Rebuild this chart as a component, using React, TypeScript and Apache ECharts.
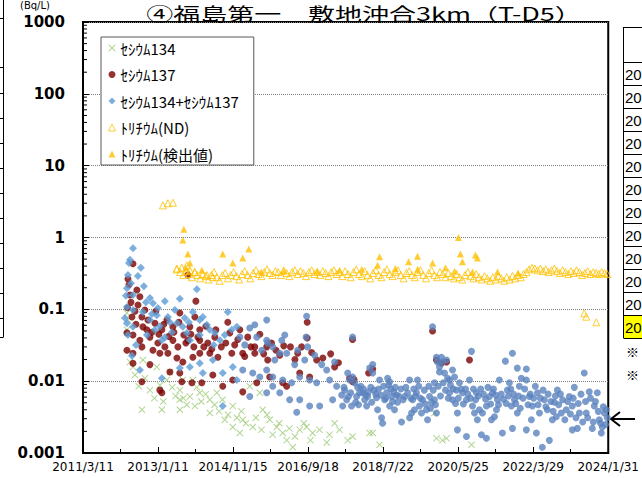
import React, { useEffect, useRef } from 'react';
import * as echarts from 'echarts';

// ---------- texts ----------
const TITLE = '④福島第一　敷地沖合3km（T-D5）';
const UNIT_LABEL = '(Bq/L)';
const seriesNames = ['ｾｼｳﾑ134', 'ｾｼｳﾑ137', 'ｾｼｳﾑ134+ｾｼｳﾑ137', 'ﾄﾘﾁｳﾑ(ND)', 'ﾄﾘﾁｳﾑ(検出値)'];
const xTickLabels = ['2011/3/11', '2013/1/11', '2014/11/15', '2016/9/18', '2018/7/22', '2020/5/25', '2022/3/29', '2024/1/31'];
const yTickLabels = ['0.001', '0.01', '0.1', '1', '10', '100', '1000'];
const tableRowLabels = ['20', '20', '20', '20', '20', '20', '20', '20', '20', '20', '20', '20'];
const noteMarks = ['※', '※'];

// x values are days counted from 2011/3/11; the axis ends on 2024/1/31
const X_MAX_DAY = 4709;
const BLUE_DIAMOND_UNTIL = 1400;

// ---------- data: [day since 2011/3/11, Bq/L] ----------
const cs134 = [
  [394, 0.089], [403, 0.071], [394, 0.052], [421, 0.0185], [448, 0.0158], [466, 0.0122], [500, 0.0085], [528, 0.004],
  [537, 0.0197], [555, 0.011], [600, 0.0075], [640, 0.0058], [662, 0.0158], [690, 0.0088], [707, 0.004], [720, 0.0052],
  [752, 0.0104], [779, 0.0134], [800, 0.0082], [830, 0.0062], [868, 0.004], [868, 0.0055], [868, 0.0075], [895, 0.0104],
  [900, 0.0058], [930, 0.0047], [958, 0.0061], [985, 0.0104], [1003, 0.0045], [1020, 0.0082], [1047, 0.0069], [1060, 0.0052],
  [1100, 0.0066], [1137, 0.0055], [1137, 0.0036], [1180, 0.0047], [1200, 0.0069], [1220, 0.0038], [1250, 0.0055], [1271, 0.0029],
  [1300, 0.0034], [1343, 0.0023], [1343, 0.0045], [1380, 0.0031], [1406, 0.0019], [1420, 0.0038], [1432, 0.0029], [1460, 0.0026],
  [1495, 0.0085], [1522, 0.0023], [1550, 0.0031], [1585, 0.0069], [1600, 0.0021], [1611, 0.004], [1650, 0.0034], [1674, 0.0029],
  [1700, 0.0018], [1737, 0.0023], [1760, 0.0026], [1791, 0.0019], [1826, 0.0015], [1850, 0.0022], [1880, 0.0012], [1900, 0.0017],
  [1943, 0.0021], [1980, 0.0026], [2005, 0.0023], [2040, 0.0015], [2059, 0.0019], [2120, 0.0021], [2185, 0.0014], [2210, 0.0018],
  [2256, 0.0026], [2300, 0.0021], [2373, 0.0015], [2417, 0.0017], [2570, 0.0019], [2597, 0.0019], [2659, 0.0013], [3151, 0.0036],
  [3169, 0.0016], [3223, 0.0015], [3259, 0.0016], [3483, 0.0013],
];

const cs137 = [
  [399, 0.105], [403, 0.265], [412, 0.22], [421, 0.158], [430, 0.125], [439, 0.078], [448, 0.43], [448, 0.044], [448, 0.0245],
  [448, 0.0178], [394, 0.047], [394, 0.027], [466, 0.094], [475, 0.062], [483, 0.186], [493, 0.115], [510, 0.15], [510, 0.037],
  [528, 0.078], [528, 0.03], [528, 0.0098], [537, 0.057], [555, 0.098], [573, 0.052], [582, 0.071], [600, 0.041], [600, 0.017],
  [618, 0.048], [627, 0.027], [645, 0.064], [653, 0.094], [671, 0.034], [680, 0.045], [689, 0.0245], [689, 0.0075], [707, 0.052],
  [707, 0.0069], [725, 0.062], [734, 0.03], [752, 0.071], [761, 0.0245], [770, 0.042], [779, 0.0134], [806, 0.057], [806, 0.037],
  [815, 0.048], [842, 0.021], [851, 0.03], [860, 0.066], [868, 0.089], [868, 0.013], [886, 0.0098], [895, 0.0185], [904, 0.044],
  [922, 0.034], [940, 0.3], [940, 0.037], [958, 0.057], [967, 0.045], [976, 0.0095], [985, 0.0215], [994, 0.03], [1003, 0.078],
  [1012, 0.13], [1030, 0.041], [1047, 0.052], [1047, 0.037], [1047, 0.0245], [1065, 0.0095], [1083, 0.03], [1101, 0.058],
  [1119, 0.034], [1137, 0.0245], [1155, 0.028], [1164, 0.0122], [1182, 0.041], [1191, 0.052], [1209, 0.0215], [1240, 0.03],
  [1253, 0.0085], [1280, 0.034], [1298, 0.066], [1316, 0.047], [1334, 0.0245], [1343, 0.0104], [1360, 0.032], [1388, 0.038],
  [1406, 0.052], [1432, 0.0245], [1432, 0.0071], [1450, 0.022], [1477, 0.041], [1505, 0.03], [1540, 0.03], [1540, 0.0245],
  [1558, 0.0095], [1585, 0.045], [1620, 0.024], [1647, 0.03], [1656, 0.0197], [1674, 0.0114], [1690, 0.034], [1730, 0.027],
  [1764, 0.023], [1791, 0.0095], [1800, 0.031], [1826, 0.0085], [1860, 0.03], [1900, 0.02], [1925, 0.0245], [1943, 0.013],
  [1960, 0.03], [2010, 0.066], [2010, 0.04], [2032, 0.0114], [2050, 0.025], [2095, 0.0197], [2150, 0.021], [2220, 0.024],
  [2256, 0.0158], [2290, 0.018], [2390, 0.011], [2417, 0.038], [2417, 0.0098], [2430, 0.0105], [2561, 0.013], [2597, 0.0148],
  [3134, 0.05], [3169, 0.0197], [3214, 0.0178], [3259, 0.0185], [3465, 0.0197],
];

const csTotal = [
  [448, 0.71], [421, 0.49], [412, 0.44], [519, 0.38], [403, 0.3], [492, 0.29], [394, 0.197], [546, 0.21], [448, 0.158], [600, 0.144],
  [627, 0.122], [1021, 0.19], [868, 0.14], [734, 0.13], [394, 0.108], [448, 0.098], [537, 0.092], [618, 0.086], [662, 0.083],
  [1298, 0.092], [761, 0.078], [842, 0.064], [913, 0.076], [1047, 0.071], [1074, 0.078], [1647, 0.071], [2005, 0.08], [394, 0.064],
  [448, 0.057], [475, 0.032], [403, 0.044], [573, 0.044], [645, 0.052], [689, 0.058], [734, 0.041], [797, 0.048], [895, 0.057],
  [931, 0.047], [958, 0.037], [1047, 0.044], [1137, 0.052], [1182, 0.047], [1227, 0.037], [1334, 0.052], [1379, 0.057], [1406, 0.041],
  [1495, 0.055], [1558, 0.041], [1647, 0.037], [1656, 0.034], [1701, 0.03], [1782, 0.037], [1764, 0.0245], [1826, 0.0245],
  [1925, 0.027], [2000, 0.041], [2014, 0.03], [2256, 0.0185], [2185, 0.0143], [510, 0.0143], [707, 0.011], [868, 0.0152],
  [958, 0.0158], [1047, 0.0178], [1074, 0.013], [1164, 0.0197], [1253, 0.013], [1343, 0.0158], [1379, 0.0104], [1432, 0.0143],
  [1522, 0.013], [1585, 0.0114], [1647, 0.0143], [1701, 0.0114], [1791, 0.0104], [1871, 0.0095], [1943, 0.0114], [2032, 0.0104],
  [2095, 0.0095], [2211, 0.0104], [2274, 0.0085], [1853, 0.0055], [1943, 0.0055], [2032, 0.0045], [2122, 0.0045], [2238, 0.0055],
  [1253, 0.0045], [1495, 0.0061], [1647, 0.0069], [1701, 0.0085], [1764, 0.0069], [1916, 0.0037],
  [376, 0.076], [385, 0.155], [430, 0.23], [564, 0.125], [600, 0.071], [671, 0.104], [707, 0.037], [779, 0.066], [824, 0.098],
  [949, 0.066], [985, 0.092], [1110, 0.061], [1173, 0.032], [1271, 0.044], [1450, 0.032], [1540, 0.061], [1603, 0.027],
  [1719, 0.0197], [1809, 0.044], [1898, 0.017], [1988, 0.0197], [2077, 0.023], [2140, 0.017], [439, 0.0225],
  [2417, 0.041], [2319, 0.0064], [2346, 0.0075], [2373, 0.013], [2390, 0.0104], [2417, 0.0114], [2435, 0.0095], [2453, 0.0061],
  [2364, 0.0055], [2408, 0.0045], [2462, 0.0082], [2328, 0.0045], [2480, 0.0069], [2507, 0.0069], [2525, 0.0055], [2543, 0.0045],
  [2552, 0.0061], [2570, 0.0152], [2597, 0.017], [2597, 0.013], [2588, 0.0051], [2632, 0.0059], [2641, 0.004], [2659, 0.0104],
  [2677, 0.0031], [2686, 0.0026], [2731, 0.011], [2749, 0.0098], [2722, 0.0069], [2767, 0.0061], [2776, 0.0052], [2811, 0.0064],
  [2820, 0.0051], [2749, 0.0045], [2793, 0.004], [2704, 0.0055], [2856, 0.0027], [2883, 0.0061], [2910, 0.0069], [2928, 0.0104],
  [2946, 0.0036], [2955, 0.0055], [2990, 0.0069], [2999, 0.0104], [2972, 0.004], [3017, 0.0045], [2928, 0.0031], [3035, 0.0036],
  [3044, 0.0055], [3080, 0.004], [3089, 0.0029], [3107, 0.0061], [3134, 0.057], [3125, 0.0051], [3151, 0.0095], [3169, 0.0215],
  [3178, 0.0185], [3196, 0.0158], [3196, 0.0134], [3169, 0.0036], [3151, 0.0055], [3214, 0.0215], [3223, 0.0185], [3259, 0.0197],
  [3241, 0.013], [3268, 0.011], [3286, 0.0104], [3313, 0.0143], [3331, 0.0114], [3286, 0.0069], [3313, 0.0055], [3357, 0.0036],
  [3357, 0.0021], [3348, 0.0075], [3375, 0.0095], [3402, 0.0069], [3438, 0.0055], [3438, 0.0017], [3465, 0.0104], [3483, 0.026],
  [3492, 0.0045], [3510, 0.0036], [3527, 0.0069], [3536, 0.0029], [3554, 0.004], [3572, 0.0018], [3581, 0.0036], [3617, 0.0016],
  [3617, 0.0045], [3644, 0.0061], [3662, 0.0029], [3671, 0.0069], [3707, 0.004], [3716, 0.0055], [3733, 0.0104], [3689, 0.0032],
  [3760, 0.0019], [3787, 0.019], [3805, 0.0075], [3823, 0.0095], [3841, 0.0045], [3850, 0.0245], [3850, 0.0022], [3868, 0.0055],
  [3894, 0.0152], [3912, 0.0085], [3894, 0.0036], [3930, 0.011], [3975, 0.0148], [3975, 0.0104], [3975, 0.0021], [4020, 0.0029],
  [4002, 0.0061], [4029, 0.0045], [4065, 0.0019], [4074, 0.0069], [4092, 0.0036], [4118, 0.0012], [4136, 0.0055], [4181, 0.0015],
  [4163, 0.004], [4208, 0.0029], [4244, 0.0032], [4253, 0.0075], [4226, 0.0051], [4288, 0.0036], [4333, 0.004], [4360, 0.0061],
  [4387, 0.0021], [4405, 0.0082], [4432, 0.0022], [4450, 0.0036], [4387, 0.0045], [4494, 0.013], [4512, 0.0036], [4539, 0.0071],
  [4566, 0.0022], [4584, 0.0045], [4611, 0.0069], [4647, 0.0019], [4656, 0.0023], [4674, 0.0036], [4629, 0.0029], [4691, 0.004],
  [2340, 0.0082], [2380, 0.0061], [2400, 0.0069], [2445, 0.0051], [2470, 0.0047], [2490, 0.0085], [2515, 0.0078], [2535, 0.0064],
  [2560, 0.0071], [2580, 0.0082], [2610, 0.0075], [2625, 0.0066], [2650, 0.0078], [2670, 0.0064], [2695, 0.0085], [2715, 0.0058],
  [2740, 0.0088], [2760, 0.0078], [2785, 0.0071], [2800, 0.0082], [2830, 0.0062], [2850, 0.0078], [2870, 0.0055], [2895, 0.0082],
  [2940, 0.0058], [2965, 0.0078], [2980, 0.0062], [3010, 0.0085], [3025, 0.0058], [3060, 0.0075], [3070, 0.0048], [3100, 0.0085],
  [3115, 0.0042], [3140, 0.0075], [3160, 0.0047], [3185, 0.0085], [3205, 0.0062], [3230, 0.0095], [3250, 0.0075], [3275, 0.0058],
  [3295, 0.0088], [3320, 0.0078], [3340, 0.0049], [3365, 0.0058], [3390, 0.0078], [3410, 0.0048], [3430, 0.0078], [3450, 0.0066],
  [3475, 0.0058], [3500, 0.0078], [3520, 0.0055], [3545, 0.0062], [3565, 0.0078], [3590, 0.0066], [3610, 0.0056], [3630, 0.0082],
  [3655, 0.0048], [3680, 0.0078], [3700, 0.0064], [3725, 0.0047], [3750, 0.0066], [3770, 0.0056], [3795, 0.0049], [3815, 0.0062],
  [3835, 0.0078], [3860, 0.0066], [3880, 0.0049], [3905, 0.0062], [3920, 0.0042], [3945, 0.0058], [3960, 0.0078], [3990, 0.0047],
  [4010, 0.0066], [4040, 0.0058], [4055, 0.0085], [4080, 0.0047], [4100, 0.0058], [4125, 0.0075], [4150, 0.0044], [4170, 0.0066],
  [4195, 0.0052], [4215, 0.0038], [4235, 0.0062], [4265, 0.0047], [4280, 0.0066], [4300, 0.0055], [4320, 0.0029], [4345, 0.0052],
  [4370, 0.0035], [4395, 0.0058], [4420, 0.0031], [4440, 0.0049], [4465, 0.0066], [4480, 0.0027], [4505, 0.0052], [4525, 0.0031],
  [4550, 0.0058], [4575, 0.0027], [4595, 0.0052], [4620, 0.0038], [4640, 0.0026], [4665, 0.0044], [4685, 0.0025], [4700, 0.0031],
];

const tritiumND = [
  [716, 2.8], [761, 3.0], [806, 3.05], [842, 0.37], [886, 0.38], [931, 0.41], [958, 0.35], [1003, 0.33], [1110, 0.3], [1164, 0.28],
  [840, 0.36], [870, 0.33], [900, 0.3], [925, 0.34], [950, 0.31], [975, 0.28], [1000, 0.33], [1025, 0.3], [1050, 0.27], [1075, 0.31],
  [1100, 0.29], [1125, 0.26], [1150, 0.3], [1175, 0.33], [1200, 0.28], [1225, 0.25], [1250, 0.3], [1275, 0.32], [1300, 0.27],
  [1325, 0.3], [1350, 0.33], [1375, 0.29], [1400, 0.26], [1425, 0.31], [1450, 0.34], [1475, 0.3], [1500, 0.27], [1525, 0.32],
  [1550, 0.35], [1575, 0.31], [1600, 0.29], [1625, 0.33], [1650, 0.36], [1675, 0.32], [1700, 0.3], [1725, 0.34], [1750, 0.33],
  [1775, 0.3], [1800, 0.35], [1825, 0.32], [1850, 0.29], [1875, 0.33], [1900, 0.35], [1925, 0.31], [1950, 0.34], [1975, 0.32],
  [2000, 0.29], [2025, 0.33], [2050, 0.35], [2075, 0.31], [2100, 0.33], [2125, 0.3], [2150, 0.34], [2175, 0.32], [2200, 0.29],
  [2225, 0.33], [2250, 0.35], [2275, 0.31], [2300, 0.33], [2325, 0.29], [2350, 0.34], [2375, 0.31], [2400, 0.28], [2425, 0.33],
  [2450, 0.36], [2475, 0.31], [2500, 0.29], [2525, 0.34], [2550, 0.3], [2575, 0.27], [2600, 0.32], [2625, 0.35], [2650, 0.3],
  [2675, 0.28], [2700, 0.33], [2725, 0.36], [2750, 0.31], [2775, 0.29], [2800, 0.33], [2825, 0.35], [2850, 0.3], [2875, 0.27],
  [2900, 0.32], [2925, 0.34], [2950, 0.3], [2975, 0.28], [3000, 0.33], [3025, 0.35], [3050, 0.3], [3075, 0.27], [3100, 0.32],
  [3125, 0.35], [3150, 0.3], [3175, 0.28], [3200, 0.33], [3225, 0.31], [3250, 0.28], [3275, 0.32], [3300, 0.29], [3325, 0.27],
  [3350, 0.31], [3375, 0.28], [3400, 0.26], [3425, 0.3], [3450, 0.33], [3475, 0.29], [3500, 0.27], [3525, 0.31], [3550, 0.28],
  [3575, 0.26], [3600, 0.29], [3625, 0.27], [3650, 0.25], [3675, 0.28], [3700, 0.26], [3725, 0.29], [3750, 0.27], [3775, 0.25],
  [3800, 0.28], [3825, 0.26], [3850, 0.29], [3875, 0.27], [3900, 0.3], [3925, 0.28], [3950, 0.31], [3975, 0.33], [4000, 0.36],
  [4025, 0.38], [4050, 0.37], [4075, 0.35], [4100, 0.37], [4125, 0.34], [4150, 0.36], [4175, 0.33], [4200, 0.35], [4225, 0.37],
  [4250, 0.34], [4275, 0.32], [4300, 0.35], [4325, 0.33], [4350, 0.31], [4375, 0.34], [4400, 0.32], [4425, 0.35], [4450, 0.33],
  [4475, 0.3], [4500, 0.32], [4525, 0.34], [4550, 0.31], [4575, 0.33], [4600, 0.32], [4625, 0.31], [4650, 0.33], [4675, 0.32],
  [4700, 0.31], [4494, 0.088], [4512, 0.079], [4602, 0.066],
];

const tritiumDetected = [
  [895, 0.92], [904, 1.3], [922, 0.38], [940, 0.59], [958, 0.44], [1065, 0.35], [1253, 0.59], [1343, 0.44], [1432, 0.52],
  [1486, 0.69], [1600, 0.33], [1800, 0.34], [2100, 0.34], [2300, 0.35], [2500, 0.36], [2641, 0.41], [2659, 0.54], [2800, 0.37],
  [2919, 0.46], [2999, 0.55], [3000, 0.36], [3134, 0.44], [3250, 0.38], [3331, 0.34], [3366, 1.0], [3384, 0.59], [3402, 0.46],
  [3492, 0.33], [3518, 0.57], [3536, 0.52], [3716, 0.33], [3900, 0.32],
];

// ---------- styles ----------
const GREEN = '#9CCB76';
const RED = '#7A0000';
const BLUE_EARLY = '#5B9BD5';
const BLUE_LATE = '#5A82BE';
const GOLD = '#FFC000';
const CROSS = 'path://M0,1L1,0L5,4L9,0L10,1L6,5L10,9L9,10L5,6L1,10L0,9L4,5Z';

export default function App() {
  const ref = useRef<HTMLDivElement>(null);

  useEffect(() => {
    const el = ref.current as HTMLDivElement;
    const chart = echarts.init(el, null, { renderer: 'svg' });
    const xInterval = X_MAX_DAY / 7;

    const option: any = {
      animation: false,
      backgroundColor: '#fff',
      grid: { left: 83, top: 22, right: 33, bottom: 25, show: true, borderColor: '#000', borderWidth: 2, backgroundColor: 'transparent' },
      xAxis: {
        type: 'value', min: 0, max: X_MAX_DAY, interval: xInterval,
        axisLine: { show: true, onZero: false, lineStyle: { color: '#000', width: 2 } },
        axisTick: { show: true, inside: true, length: 6, lineStyle: { color: '#000', width: 1 } },
        minorTick: { show: true, splitNumber: 2, length: 4, lineStyle: { color: '#000', width: 1 } },
        splitLine: { show: false },
        axisLabel: {
          show: true, margin: 8, color: '#000', fontFamily: 'DejaVu Sans', fontSize: 12,
          showMinLabel: true, showMaxLabel: true,
          formatter: (v: number) => xTickLabels[Math.round(v / xInterval)] ?? '',
        },
      },
      yAxis: {
        type: 'log', logBase: 10, min: 0.001, max: 1000,
        axisLine: { show: true, lineStyle: { color: '#000', width: 2 } },
        axisTick: { show: true, inside: true, length: 6, lineStyle: { color: '#000', width: 1 } },
        splitLine: { show: true, lineStyle: { color: '#808080', type: 'dotted', width: 1 } },
        axisLabel: {
          show: true, margin: 18, color: '#000', fontFamily: 'DejaVu Sans', fontWeight: 'bold', fontSize: 15,
          formatter: (v: number) => yTickLabels[Math.round(Math.log10(v)) + 3] ?? '',
        },
      },
      legend: {
        show: true, orient: 'vertical', left: 101, top: 37,
        padding: [3, 15, 3, 7], itemGap: 10.5, itemWidth: 7, itemHeight: 7,
        backgroundColor: '#fff', borderColor: '#595959', borderWidth: 1,
        selectedMode: false,
        textStyle: { fontFamily: 'Noto Sans CJK JP', fontSize: 15, color: '#000', lineHeight: 16 },
        data: [
          { name: seriesNames[0], icon: CROSS, itemStyle: { color: GREEN } },
          { name: seriesNames[1], icon: 'circle', itemStyle: { color: RED } },
          { name: seriesNames[2], icon: 'diamond', itemStyle: { color: BLUE_EARLY } },
          { name: seriesNames[3], icon: 'triangle', itemStyle: { color: 'rgba(0,0,0,0)', borderColor: GOLD, borderWidth: 1 } },
          { name: seriesNames[4], icon: 'triangle', itemStyle: { color: GOLD } },
        ],
      },
      series: [
        { type: 'scatter', name: seriesNames[0], data: cs134, symbol: CROSS, symbolSize: 7, silent: true, itemStyle: { color: GREEN } },
        { type: 'scatter', name: seriesNames[1], data: cs137, symbol: 'circle', symbolSize: 7, silent: true, itemStyle: { color: RED } },
        {
          type: 'scatter', name: seriesNames[2], data: csTotal, silent: true,
          symbol: (v: number[]) => (v[0] < BLUE_DIAMOND_UNTIL ? 'diamond' : 'circle'),
          symbolSize: (v: number[]) => (v[0] < BLUE_DIAMOND_UNTIL ? 8 : 7),
          itemStyle: { color: (p: any) => (p.value[0] < BLUE_DIAMOND_UNTIL ? BLUE_EARLY : BLUE_LATE) },
        },
        {
          type: 'scatter', name: seriesNames[3], data: tritiumND, symbol: 'triangle', symbolSize: 7, silent: true,
          itemStyle: { color: 'rgba(0,0,0,0)', borderColor: GOLD, borderWidth: 1 },
        },
        { type: 'scatter', name: seriesNames[4], data: tritiumDetected, symbol: 'triangle', symbolSize: 7, silent: true, itemStyle: { color: GOLD } },
      ],
    };
    chart.setOption(option);

    // log minor ticks on the y axis, placed through the axis scale
    const x0 = chart.convertToPixel({ xAxisIndex: 0 }, 0) as number;
    const minorTicks: any[] = [];
    for (let k = -3; k < 3; k++) {
      for (let m = 2; m <= 9; m++) {
        const py = chart.convertToPixel({ yAxisIndex: 0 }, m * Math.pow(10, k)) as number;
        minorTicks.push({ type: 'line', silent: true, shape: { x1: x0, y1: py, x2: x0 + 4, y2: py }, style: { stroke: '#000', lineWidth: 1 } });
      }
    }

    const leftTableRows = [18, 67, 93, 118, 143, 168, 193, 218, 243, 268, 293, 318, 337];
    const leftTable: any[] = [
      { type: 'line', silent: true, shape: { x1: 3.5, y1: 0, x2: 3.5, y2: 337 }, style: { stroke: '#000', lineWidth: 1 } },
      ...leftTableRows.map((y) => ({ type: 'line', silent: true, shape: { x1: 0, y1: y + 0.5, x2: 3.5, y2: y + 0.5 }, style: { stroke: '#000', lineWidth: 1 } })),
    ];

    const rowTop = 62;
    const rowH = 23;
    const rightTable: any[] = [
      { type: 'rect', silent: true, shape: { x: 623.5, y: rowTop + rowH * 11, width: 20, height: rowH }, style: { fill: '#FFFF00', stroke: 'none' } },
      { type: 'line', silent: true, shape: { x1: 623.5, y1: 27, x2: 623.5, y2: rowTop + rowH * 12 }, style: { stroke: '#000', lineWidth: 1 } },
      { type: 'line', silent: true, shape: { x1: 623.5, y1: 27.5, x2: 642, y2: 27.5 }, style: { stroke: '#000', lineWidth: 1 } },
    ];
    for (let i = 0; i <= 12; i++) {
      rightTable.push({ type: 'line', silent: true, shape: { x1: 623.5, y1: rowTop + rowH * i + 0.5, x2: 642, y2: rowTop + rowH * i + 0.5 }, style: { stroke: '#000', lineWidth: 1 } });
    }
    tableRowLabels.forEach((t, i) => {
      rightTable.push({ type: 'text', silent: true, x: 625, y: rowTop + rowH * i + rowH / 2 + 1, style: { text: t, fill: '#000', fontSize: 15, fontFamily: 'Liberation Sans', verticalAlign: 'middle', align: 'left' } });
    });
    noteMarks.forEach((t, i) => {
      rightTable.push({ type: 'text', silent: true, x: 626, y: 351 + i * 23, style: { text: t, fill: '#000', fontSize: 13, fontFamily: 'Noto Sans CJK JP', verticalAlign: 'middle', align: 'left' } });
    });

    const arrow: any[] = [
      { type: 'line', silent: true, shape: { x1: 611, y1: 419, x2: 635, y2: 419 }, style: { stroke: '#000', lineWidth: 2 } },
      { type: 'polyline', silent: true, shape: { points: [[620, 412], [611, 419], [620, 426]] }, style: { stroke: '#000', lineWidth: 2, fill: 'none' } },
    ];

    const texts: any[] = [
      { type: 'text', silent: true, x: 364, y: 13.2, scaleX: 1.5, scaleY: 1, style: { text: TITLE, fill: '#000', fontSize: 18, fontFamily: 'Noto Sans CJK JP', align: 'center', verticalAlign: 'middle' } },
      { type: 'text', silent: true, x: 20, y: 0, style: { text: UNIT_LABEL, fill: '#000', fontSize: 10, fontFamily: 'DejaVu Sans', align: 'left', verticalAlign: 'top' } },
    ];

    chart.setOption({ graphic: [...minorTicks, ...leftTable, ...rightTable, ...arrow, ...texts] });

    return () => chart.dispose();
  }, []);

  return <div ref={ref} style={{ position: 'fixed', left: 0, top: 0, width: 642, height: 478, background: '#fff' }} />;
}
